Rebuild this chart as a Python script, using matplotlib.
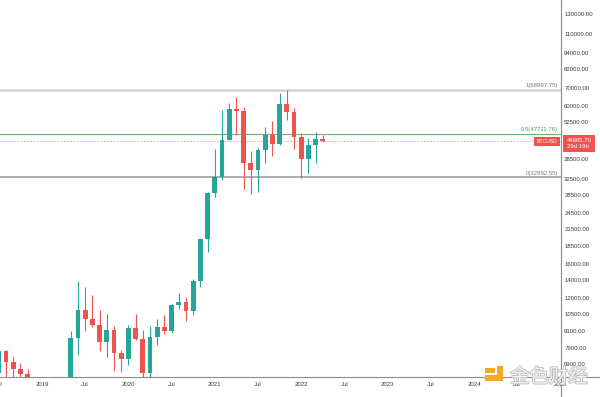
import matplotlib
matplotlib.use('Agg')
import matplotlib.pyplot as plt
import matplotlib.patheffects as pe
from matplotlib.patches import Rectangle
from matplotlib.lines import Line2D

plt.rcParams['font.family'] = ['Liberation Sans', 'DejaVu Sans']

# monthly BTCUSD candles, Jul 2018 .. Apr 2022 (month index 0 = Jan 2019)
months = list(range(-6, 40))
opens = [6390, 7730, 7030, 6630, 6370, 4040, 3740, 3460, 3850, 4100, 5320, 8570,
         10820, 10080, 9590, 8290, 9150, 7540, 7190, 9350, 8540, 6410, 8630, 9450,
         9140, 11350, 11650, 10780, 13800, 19700, 28990, 33100, 45240, 58800, 57700, 37300,
         35040, 41460, 47100, 43820, 61300, 57000, 46200, 38480, 43190, 45540]
highs = [8500, 7760, 7400, 6950, 6600, 4400, 4100, 4200, 4100, 5600, 9100, 13880,
         13200, 12300, 10900, 10540, 9510, 7740, 9580, 10500, 9180, 9470, 10070, 10380,
         11450, 12480, 12080, 14100, 19900, 29300, 41950, 58350, 61780, 64850, 59600, 41300,
         42400, 50500, 52900, 67000, 69000, 59100, 47990, 45800, 48190, 47200]
lows = [6100, 6200, 6150, 6200, 3650, 3150, 3400, 3400, 3700, 4080, 5300, 7450,
        9070, 9400, 7710, 7300, 6520, 6430, 6850, 8440, 3850, 6150, 8110, 8900,
        8980, 10930, 9880, 10400, 13200, 17600, 28130, 32300, 45000, 47000, 30000, 28800,
        29300, 37300, 39600, 43300, 53250, 42000, 32990, 34300, 37200, 44500]
closes = [7730, 7030, 6630, 6370, 4040, 3740, 3460, 3850, 4100, 5320, 8570, 10820,
          10080, 9590, 8290, 9150, 7540, 7190, 9350, 8540, 6410, 8630, 9450, 9140,
          11350, 11650, 10780, 13800, 19700, 28990, 33100, 45240, 58800, 57700, 37300, 35040,
          41460, 47100, 43820, 61300, 57000, 46200, 38480, 43190, 45540, 44665.70]

fib_levels = [68997.75, 47711.76, 32992.55]
fib_labels = ['1(68997.75)', '0.5(47711.76)', '0(32992.55)']
last_price = 44665.70
countdown = '29d 19h'

price_ticks = [130000, 110000, 94000, 82000, 70000, 60000, 52500, 38500, 32500, 28500,
               24500, 21500, 18500, 16000, 14000, 12000, 10500, 9100, 7900, 6900]
date_ticks = list(range(0, 73, 6))
date_labels = ['2019', 'Jul', '2020', 'Jul', '2021', 'Jul', '2022', 'Jul',
               '2023', 'Jul', '2024', 'Jul', '2025']

UP = '#26a69a'
DOWN = '#ef5350'
AXIS = '#8c8c8c'
TXT = '#3a3a3a'

W, H = 600, 397
fig = plt.figure(figsize=(6, 3.97), dpi=100)
ax = fig.add_axes([0, 20 / H, 561 / W, 377 / H])
ax.set_yscale('log')

# candles
colors = [UP if c >= o else DOWN for o, c in zip(opens, closes)]
bottoms = [min(o, c) for o, c in zip(opens, closes)]
heights = [max(abs(c - o), 1) for o, c in zip(opens, closes)]
ax.vlines(months, lows, highs, colors=colors, lw=0.8, zorder=3)
ax.bar(months, heights, bottom=bottoms, width=0.68, color=colors, zorder=4)

# fib retracement
fib_styles = [('#d6d8de', 2.0, '#787b86'), ('#66bb6a', 0.8, '#43a047'), ('#a3a6ad', 1.3, '#787b86')]
for lvl, lab, (lc, lw, tc) in zip(fib_levels, fib_labels, fib_styles):
    ax.axhline(lvl, color=lc, lw=lw, zorder=1)
    ax.annotate(lab, xy=(558 / 561, lvl), xycoords=('axes fraction', 'data'),
                xytext=(0, 1.2), textcoords='offset points', ha='right', va='bottom',
                fontsize=4.3, color=tc)

# last price line
ax.axhline(last_price, color=DOWN, lw=0.6, ls=(0, (2, 2)), alpha=0.6, zorder=2)

ax.set_xlim(-5.83, 72.08)
ax.set_ylim(6190, 146200)

ax.yaxis.tick_right()
ax.set_yticks(price_ticks)
ax.set_yticklabels([f'{p:.2f}' for p in price_ticks])
ax.minorticks_off()
ax.tick_params(axis='y', length=0, pad=2.3, labelsize=4.3, labelcolor=TXT)

ax.set_xticks(date_ticks)
ax.set_xticklabels(date_labels)
ax.tick_params(axis='x', length=0, pad=3.6, labelsize=4.3, labelcolor=TXT)
ax.text(-6, -7 / 377, 'Jul', transform=ax.get_xaxis_transform(), ha='center', va='center',
        fontsize=4.3, color=TXT, clip_on=False)

for s in ['left', 'top']:
    ax.spines[s].set_visible(False)
for s in ['right', 'bottom']:
    ax.spines[s].set_color(AXIS)
    ax.spines[s].set_linewidth(0.8)
fig.add_artist(Line2D([561 / W, 561 / W], [0, 20 / H], color=AXIS, lw=0.8))
fig.add_artist(Line2D([561 / W, 1], [20 / H, 20 / H], color=AXIS, lw=0.8))

# price labels on the axis
ax.annotate(f'{last_price:.2f}\n{countdown}', xy=(1, last_price),
            xycoords=('axes fraction', 'data'), xytext=(4.1, 2.2), textcoords='offset points',
            ha='left', va='top', fontsize=4.3, color='white', linespacing=1.15,
            bbox=dict(boxstyle='square,pad=0.55', fc=DOWN, ec='none'),
            annotation_clip=False, zorder=6)
ax.annotate('BTCUSD', xy=(1, last_price), xycoords=('axes fraction', 'data'),
            xytext=(-2.6, 0), textcoords='offset points', ha='right', va='center',
            fontsize=3.7, color='white',
            bbox=dict(boxstyle='square,pad=0.45', fc=DOWN, ec='none'),
            annotation_clip=False, zorder=6)

# watermark
def px(x, y):
    return x / W, 1 - y / H

orange = '#f6a821'
for x0, y0, x1, y1 in [(485, 368, 495, 373), (497, 366, 503, 381), (485, 375, 503, 381)]:
    fig.add_artist(Rectangle(px(x0, y1), (x1 - x0) / W, (y1 - y0) / H,
                             transform=fig.transFigure, fc=orange, ec='none', zorder=10))
wx, wy = px(549, 377)
fig.text(wx, wy, '金色财经', ha='center', va='center', fontsize=14,
         family=['Noto Sans CJK SC', 'DejaVu Sans'], color='#f4f4f4', zorder=10,
         path_effects=[pe.withStroke(linewidth=1.2, foreground='#bdbdbd')])

fig.savefig('out.png', dpi=100, facecolor='white')
